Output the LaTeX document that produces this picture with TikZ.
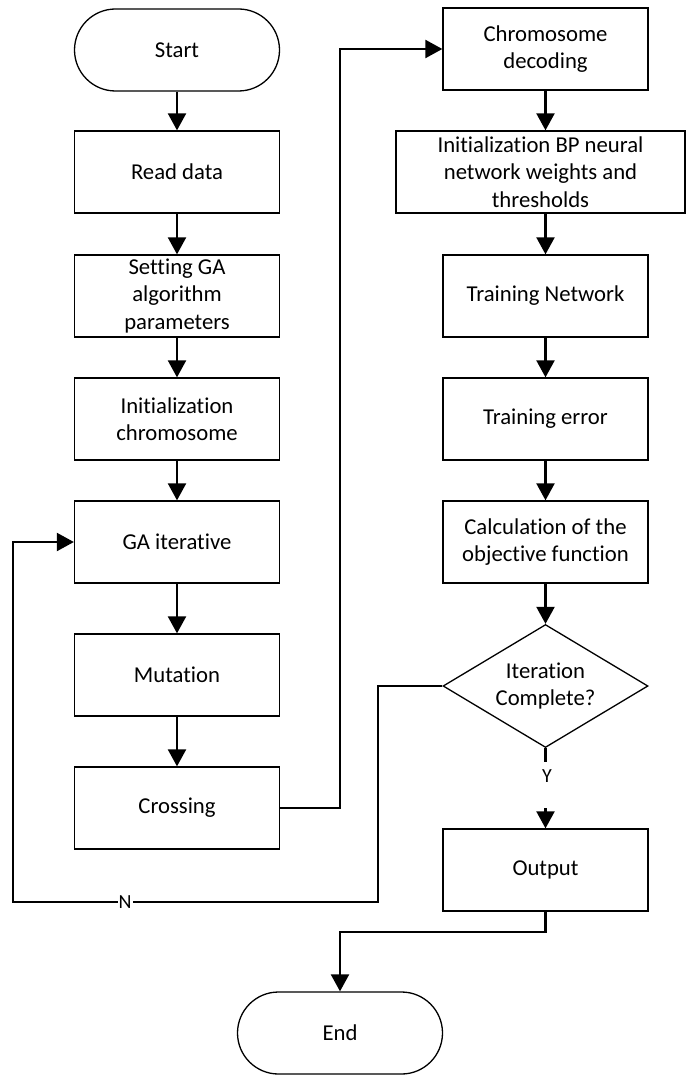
\documentclass[tikz,border=0pt]{standalone}
\usepackage{fontspec}
\setmainfont[Ligatures={NoCommon}]{Carlito}
\usetikzlibrary{shapes.geometric,arrows.meta}
\begin{document}
\begin{tikzpicture}[x=1pt,y=-1pt,
 box/.style={draw,line width=1.3pt,minimum width=205pt,minimum height=82pt,inner sep=0pt,align=center,font=\fontsize{22.7}{27.3}\selectfont},
 term/.style={box,rounded corners=41pt},
 decision/.style={box,shape=diamond,aspect=1.667,minimum height=123pt},
 conn/.style={line width=2.2pt},
 arr/.style={conn,-{Triangle[length=17pt,width=18pt]}},
 lbl/.style={fill=white,inner sep=1pt,font=\fontsize{20}{24}\selectfont}]
\useasboundingbox (0,0) rectangle (686,1075);
% left column
\node[term] (start) at (177,50) {Start};
\node[box] (read) at (177,172) {Read data};
\node[box] (set) at (177,296) {Setting GA\\algorithm\\parameters};
\node[box] (initc) at (177,419) {Initialization\\chromosome};
\node[box] (gai) at (177,542) {GA iterative};
\node[box] (mut) at (177,675) {Mutation};
\node[box] (cross) at (177,808) {Crossing};
% right column
\node[box] (decode) at (545.5,49) {Chromosome\\decoding};
\node[box,minimum width=289pt] (initbp) at (540.5,172) {Initialization BP neural\\network weights and\\thresholds};
\node[box] (tnet) at (545.5,296) {Training Network};
\node[box] (terr) at (545.5,419) {Training error};
\node[box] (calc) at (545.5,542) {Calculation of the\\objective function};
\node[decision] (iter) at (545.5,686) {Iteration\\Complete?};
\node[box] (out) at (545.5,870) {Output};
\node[term] (end) at (340,1033) {End};
% coordinates
\coordinate (jx) at (340,808);
\coordinate (nr) at (378,902);
\coordinate (nl) at (13,902);
\coordinate (ystem) at (545.5,762);
\coordinate (yarr) at (545.5,808);
\coordinate (oe) at (340,932);
% connectors
\draw[arr] (start.south) -- (read.north);
\draw[arr] (read.south) -- (set.north);
\draw[arr] (set.south) -- (initc.north);
\draw[arr] (initc.south) -- (gai.north);
\draw[arr] (gai.south) -- (mut.north);
\draw[arr] (mut.south) -- (cross.north);
\draw[arr] (cross.east) -- (jx) |- (decode.west);
\draw[arr] (decode.south) -- (decode.south |- initbp.north);
\draw[arr] (initbp.south -| tnet.north) -- (tnet.north);
\draw[arr] (tnet.south) -- (terr.north);
\draw[arr] (terr.south) -- (calc.north);
\draw[arr] (calc.south) -- (iter.north);
\draw[arr] (iter.west) -| (nr) -- node[lbl,pos=0.693] (nlab) {N} (nl) |- (gai.west);
\draw[conn] (iter.south) -- (ystem);
\node[lbl] (ylab) at (547,776) {Y};
\draw[arr] (yarr) -- (out.north);
\draw[arr] (out.south) |- (oe) -- (end.north);
\end{tikzpicture}
\end{document}
